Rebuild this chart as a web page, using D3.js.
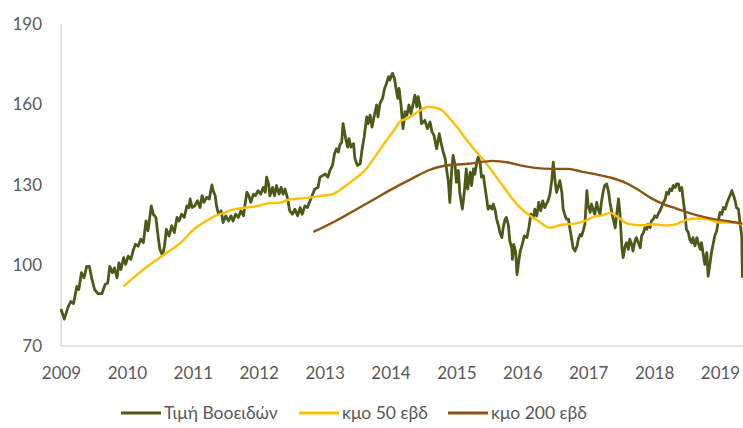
<!DOCTYPE html>
<html lang="el">
<head>
<meta charset="UTF-8">
<script src="https://d3js.org/d3.v7.min.js"></script>
<title>Τιμή Βοοειδών</title>
<style>
  body { margin: 0; background: #fff; }
  .tick-label { font-family: Lato, "Open Sans", sans-serif; font-size: 17px; fill: #595959; }
  .legend-text { font-family: Lato, "Open Sans", sans-serif; font-size: 17.5px; fill: #595959; }
</style>
</head>
<body>
<div id="chart"></div>
<script>
// decimal years and values
var priceT = [2009.00,2009.05,2009.11,2009.15,2009.19,2009.24,2009.27,2009.31,2009.35,2009.39,2009.43,2009.47,2009.51,2009.56,2009.62,2009.67,2009.71,2009.74,2009.78,2009.81,2009.85,2009.88,2009.91,2009.95,2009.98,
  2010.02,2010.06,2010.10,2010.13,2010.17,2010.21,2010.25,2010.29,2010.32,2010.37,2010.40,2010.44,2010.47,2010.50,2010.54,2010.57,2010.60,2010.64,2010.68,2010.72,2010.76,2010.79,2010.83,2010.87,2010.91,2010.94,2010.96,2010.99,
  2011.03,2011.07,2011.11,2011.14,2011.17,2011.21,2011.25,2011.29,2011.31,2011.34,2011.36,2011.39,2011.43,2011.46,2011.50,2011.54,2011.58,2011.61,2011.65,2011.69,2011.73,2011.77,2011.79,2011.82,2011.85,2011.88,2011.92,2011.95,2011.99,
  2012.03,2012.07,2012.10,2012.12,2012.15,2012.17,2012.21,2012.24,2012.27,2012.31,2012.34,2012.37,2012.40,2012.44,2012.47,2012.51,2012.55,2012.59,2012.63,2012.66,2012.70,2012.74,2012.78,2012.81,2012.85,2012.90,2012.93,2012.97,
  2013.01,2013.05,2013.08,2013.12,2013.15,2013.18,2013.21,2013.23,2013.26,2013.28,2013.32,2013.35,2013.37,2013.40,2013.44,2013.46,2013.50,2013.54,2013.57,2013.60,2013.64,2013.66,2013.69,2013.72,2013.75,2013.79,2013.81,2013.84,2013.88,2013.91,2013.94,2013.97,2013.99,
  2014.03,2014.06,2014.08,2014.11,2014.13,2014.16,2014.19,2014.22,2014.25,2014.28,2014.31,2014.35,2014.37,2014.40,2014.42,2014.45,2014.47,2014.50,2014.52,2014.56,2014.60,2014.63,2014.66,2014.70,2014.74,2014.77,2014.80,2014.83,2014.85,2014.88,2014.90,2014.93,2014.95,2014.98,
  2015.00,2015.03,2015.05,2015.09,2015.12,2015.15,2015.17,2015.21,2015.23,2015.26,2015.28,2015.31,2015.33,2015.36,2015.38,2015.41,2015.43,2015.46,2015.48,2015.51,2015.54,2015.56,2015.59,2015.61,2015.64,2015.66,2015.69,2015.71,2015.74,2015.76,2015.79,2015.81,2015.84,2015.85,2015.87,2015.90,2015.92,2015.95,2015.97,
  2016.00,2016.03,2016.07,2016.10,2016.13,2016.17,2016.19,2016.22,2016.25,2016.28,2016.31,2016.34,2016.39,2016.42,2016.45,2016.47,2016.50,2016.52,2016.55,2016.57,2016.60,2016.62,2016.65,2016.67,2016.70,2016.72,2016.75,2016.77,2016.80,2016.83,2016.85,2016.88,2016.90,2016.93,2016.95,2016.98,
  2017.00,2017.03,2017.05,2017.08,2017.10,2017.13,2017.15,2017.18,2017.20,2017.23,2017.25,2017.28,2017.31,2017.33,2017.37,2017.41,2017.43,2017.46,2017.48,2017.51,2017.53,2017.56,2017.58,2017.61,2017.63,2017.66,2017.68,2017.71,2017.73,2017.76,2017.79,2017.81,2017.84,2017.86,2017.89,2017.91,2017.94,2017.96,2017.99,
  2018.01,2018.04,2018.06,2018.09,2018.12,2018.14,2018.17,2018.19,2018.22,2018.24,2018.27,2018.29,2018.32,2018.34,2018.37,2018.39,2018.42,2018.44,2018.47,2018.49,2018.52,2018.54,2018.57,2018.59,2018.62,2018.65,2018.67,2018.70,2018.72,2018.75,2018.77,2018.80,2018.82,2018.85,2018.87,2018.90,2018.92,2018.95,2018.97,
  2019.00,2019.03,2019.05,2019.08,2019.10,2019.13,2019.15,2019.18,2019.20,2019.23,2019.25,2019.28,2019.30,2019.33,2019.34];
var priceV = [83.8,80.0,84.7,86.6,85.8,92.2,91.0,97.3,95.4,99.7,99.7,94.8,91.0,89.5,89.5,92.9,93.5,99.7,97.3,99.1,95.4,101.0,98.5,102.9,100.4,
  103.5,102.3,106.0,107.9,107.2,109.8,108.5,116.6,112.9,122.2,119.1,117.9,111.6,106.0,103.8,107.2,113.5,111.0,114.8,112.3,117.9,116.6,119.1,117.9,122.2,121.6,124.8,121.6,
  122.2,124.1,121.6,126.0,123.5,125.4,124.8,130.0,127.9,126.0,122.2,119.1,120.4,116.0,118.5,116.6,118.5,116.6,119.1,117.9,120.4,118.5,122.2,127.3,126.0,123.5,126.6,126.0,127.9,
  126.6,129.1,127.3,132.9,130.4,126.0,129.1,126.0,129.8,126.6,129.1,126.6,128.5,124.8,120.4,119.1,121.0,118.5,121.6,119.1,122.2,121.6,124.1,126.0,128.5,129.1,132.9,133.5,
  134.1,132.9,135.4,137.3,141.6,143.5,142.3,144.8,146.0,152.9,147.3,144.1,147.3,144.1,145.4,139.8,137.3,137.9,143.5,147.9,155.4,152.9,156.0,151.6,155.4,159.8,155.4,160.4,162.3,166.0,167.9,170.4,169.1,
  171.6,169.8,166.6,162.3,166.0,159.8,151.0,157.3,156.0,159.8,156.6,161.0,163.5,159.1,162.9,159.1,152.9,153.5,154.1,151.0,153.5,149.8,148.5,143.5,149.1,145.4,142.3,139.8,136.0,131.0,123.5,136.0,141.0,137.3,
  131.0,135.4,127.3,121.0,127.3,136.0,128.5,134.8,129.8,136.0,134.0,138.5,140.4,138.5,132.9,133.5,129.8,124.8,121.0,122.2,121.0,122.9,120.4,117.3,114.8,112.3,110.4,114.1,117.3,117.9,114.8,109.1,106.6,102.3,107.9,104.8,96.6,102.3,105.4,
  107.9,111.0,110.4,114.1,119.1,117.9,121.0,118.5,123.5,120.4,124.1,121.6,124.1,126.6,132.3,138.5,131.0,127.3,129.8,131.6,127.3,121.0,118.5,117.3,117.3,114.1,109.8,106.6,105.4,107.3,109.8,111.6,111.0,113.5,115.4,127.9,
  122.2,119.8,122.9,120.4,119.1,123.5,121.0,119.1,123.5,127.9,129.8,130.4,127.3,123.5,118.5,114.0,118.5,124.8,120.0,107.3,102.9,107.3,108.5,106.0,109.8,107.9,105.4,109.1,110.4,108.5,106.6,111.0,112.3,114.1,113.5,115.4,114.1,116.6,117.3,
  118.5,117.9,119.1,120.4,122.2,123.5,124.8,127.3,126.6,128.5,127.9,129.8,129.1,130.4,130.4,127.9,129.1,124.8,119.1,113.5,112.3,109.8,108.5,110.4,107.3,110.4,108.5,106.0,108.5,103.5,100.4,104.8,96.0,101.0,104.8,108.5,111.0,112.9,116.0,
  119.8,119.1,121.6,121.0,122.9,124.8,126.0,127.9,126.6,124.1,121.6,121.0,116.6,111.0,95.4];

var ma50T = [2009.95,2010.22,2010.50,2010.83,2011.03,2011.19,2011.34,2011.49,2011.64,2011.79,2011.99,2012.15,2012.35,2012.45,2012.65,2012.80,2012.96,2013.13,2013.21,2013.31,2013.46,2013.61,2013.76,2013.92,
  2014.07,2014.14,2014.27,2014.42,2014.57,2014.68,2014.78,2014.90,2015.03,2015.16,2015.28,2015.43,2015.59,2015.74,2015.94,2016.09,2016.24,2016.42,2016.60,2016.80,2016.95,2017.10,2017.20,2017.33,2017.46,2017.56,2017.63,2017.79,2017.99,
  2018.19,2018.34,2018.49,2018.65,2018.85,2019.00,2019.15,2019.30,2019.34];
var ma50V = [92.2,97.9,103.0,108.8,113.8,116.4,118.5,119.8,121.0,121.5,122.2,123.2,123.5,124.5,125.0,125.4,126.0,126.6,127.8,129.5,132.3,135.4,140.4,146.0,
  151.0,153.5,155.0,157.3,159.1,158.8,157.9,154.8,151.0,146.6,143.0,138.8,133.5,128.5,122.2,119.0,116.6,114.1,115.2,115.6,116.6,118.3,118.6,119.6,117.9,116.0,115.4,115.0,115.4,
  114.9,115.4,117.0,117.5,117.0,116.0,116.0,115.6,114.8];

var ma200T = [2012.83,2013.16,2013.31,2013.46,2013.76,2014.07,2014.32,2014.57,2014.78,2014.98,2015.18,2015.43,2015.54,2015.79,2015.99,2016.19,2016.45,2016.70,2016.90,2017.15,2017.36,2017.56,2017.74,2017.94,2018.14,2018.34,2018.54,2018.75,2018.95,2019.15,2019.34];
var ma200V = [112.5,116.5,118.5,120.6,124.8,129.1,132.3,135.4,137.0,137.6,137.9,138.7,139.0,138.4,137.2,136.4,136.0,136.0,135.0,133.8,132.6,130.9,128.5,125.3,122.9,121.2,119.5,118.1,117.1,116.4,115.6];

var yearTicks = [2009,2010,2011,2012,2013,2014,2015,2016,2017,2018,2019];
var valueTicks = [70,100,130,160,190];
var seriesNames = ["Τιμή Βοοειδών", "κμο 50 εβδ", "κμο 200 εβδ"];
var seriesColors = ["#4b5a16", "#ffc000", "#8c5414"];

var width = 743, height = 428;

var x = d3.scaleLinear().domain([2009, 2019.34]).range([61, 742.4]);
var y = d3.scaleLinear().domain([70, 190]).range([346, 24]);

var svg = d3.select("#chart").append("svg")
  .attr("width", width)
  .attr("height", height);

// axis lines
svg.append("line")
  .attr("x1", x(2009)).attr("x2", x(2009))
  .attr("y1", y(190)).attr("y2", y(70))
  .attr("stroke", "#d9d9d9").attr("stroke-width", 1.5);
svg.append("line")
  .attr("x1", x(2009)).attr("x2", width)
  .attr("y1", y(70)).attr("y2", y(70))
  .attr("stroke", "#d9d9d9").attr("stroke-width", 1.5);

// y labels
var yAxis = d3.axisLeft(y).tickValues(valueTicks).tickSize(0).tickPadding(0);
var gy = svg.append("g").attr("transform", "translate(42,0)").call(yAxis);
gy.select(".domain").remove();
gy.selectAll("text").attr("class", "tick-label").attr("font-family", null).attr("font-size", null).attr("fill", null);

// x labels
var xAxis = d3.axisBottom(x).tickValues(yearTicks).tickFormat(d3.format("d")).tickSize(0).tickPadding(0);
var gx = svg.append("g").attr("transform", "translate(0,367)").call(xAxis);
gx.select(".domain").remove();
gx.selectAll("text").attr("class", "tick-label").attr("font-family", null).attr("font-size", null).attr("fill", null).attr("dy", "0.72em");

function pairs(ts, vs) {
  return ts.map(function (t, i) { return [t, vs[i]]; });
}

var priceLine = d3.line().x(function (d) { return x(d[0]); }).y(function (d) { return y(d[1]); });
var smoothLine = d3.line().x(function (d) { return x(d[0]); }).y(function (d) { return y(d[1]); }).curve(d3.curveMonotoneX);

svg.append("path")
  .datum(pairs(priceT, priceV))
  .attr("d", priceLine)
  .attr("fill", "none")
  .attr("stroke", seriesColors[0])
  .attr("stroke-width", 2.8)
  .attr("stroke-linejoin", "round");

svg.append("path")
  .datum(pairs(ma50T, ma50V))
  .attr("d", smoothLine)
  .attr("fill", "none")
  .attr("stroke", seriesColors[1])
  .attr("stroke-width", 2.4);

svg.append("path")
  .datum(pairs(ma200T, ma200V))
  .attr("d", smoothLine)
  .attr("fill", "none")
  .attr("stroke", seriesColors[2])
  .attr("stroke-width", 2.4);

// legend
var legendX = [121, 299, 448];
var legend = svg.append("g");
seriesNames.forEach(function (name, i) {
  legend.append("line")
    .attr("x1", legendX[i]).attr("x2", legendX[i] + 40)
    .attr("y1", 413).attr("y2", 413)
    .attr("stroke", seriesColors[i]).attr("stroke-width", 3);
  legend.append("text")
    .attr("class", "legend-text")
    .attr("x", legendX[i] + 43)
    .attr("y", 419)
    .text(name);
});
</script>
</body>
</html>
